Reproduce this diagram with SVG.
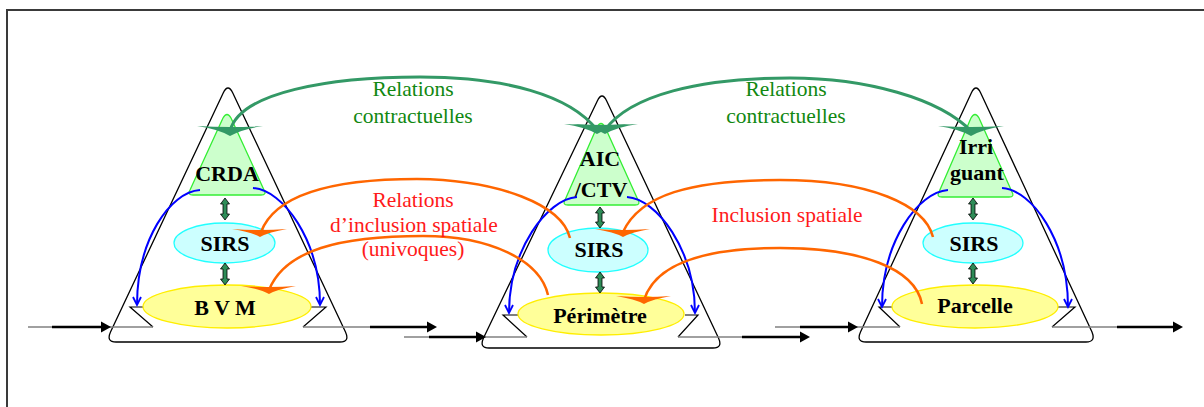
<svg xmlns="http://www.w3.org/2000/svg" xmlns:xlink="http://www.w3.org/1999/xlink" width="1204" height="407" viewBox="0 0 1204 407">
<style>
  .frame{fill:none;stroke:#3a3a3a;stroke-width:2}
  .outer{fill:none;stroke:#000;stroke-width:1.3}
  .z{fill:none;stroke:#000;stroke-width:1.2}
  .gtri{fill:#ccffcc;stroke:#33ee33;stroke-width:1.3;stroke-linejoin:round}
  .cyan{fill:#ccffff;stroke:#22ffff;stroke-width:1.3}
  .yel{fill:#ffff99;stroke:#ffee00;stroke-width:1.3}
  .lbl{font-family:"Liberation Serif","Times New Roman",serif;font-weight:bold;font-size:22px;fill:#000;text-anchor:middle}
  .gtxt{font-family:"Liberation Serif","Times New Roman",serif;font-size:21.5px;fill:#118811;text-anchor:middle}
  .rtxt{font-family:"Liberation Serif","Times New Roman",serif;font-size:21.5px;fill:#ff1a1a;text-anchor:middle}
  .garc{fill:none;stroke:#339966;stroke-width:3}
  .ghead{fill:#339966}
  .oarc{fill:none;stroke:#ff6600;stroke-width:2.5}
  .ohead{fill:#ff6600}
  .barc{fill:none;stroke:#0000ff;stroke-width:2;marker-end:url(#bArrow)}
  .dbl{fill:#2e8b57;stroke:#000;stroke-width:0.8}
  .gray{fill:none;stroke:#808080;stroke-width:1.6}
  .blk{fill:none;stroke:#000;stroke-width:2.5}
</style>
<defs>
  <marker id="bArrow" markerUnits="userSpaceOnUse" markerWidth="12" markerHeight="12" refX="9" refY="5" orient="auto" viewBox="0 0 12 10">
    <path d="M1,1 L9,5 L1,9" fill="none" stroke="#0000ff" stroke-width="1.8"/>
  </marker>
  <path id="gh" d="M-33,-9 Q0,-7 33,-9 Q12,-6 0,1 Q-12,-6 -33,-9 Z"/>
  <path id="oh" d="M-28,-8 Q0,-6 27,-8 Q9,-5 0,0 Q-9,-5 -28,-8 Z"/>
  <path id="ah" d="M0,0 L-10,-5.5 L-10,5.5 Z"/>
</defs>

<!-- frame -->
<path class="frame" d="M7,407 L7,10 L1204,10"/>

<!-- left group -->
<g id="container-left">
  <path class="outer" d="M223.2,93 Q228,83 232.8,93 L345.5,332 Q350,342 340,342 L116,342 Q106,342 110.5,332 Z"/>
  <polyline class="z" points="143,307 130,307 153,327"/>
  <polyline class="z" points="311,307 326,307 303,327"/>
</g>
<g id="node-crda">
  <path class="gtri" d="M223,118 Q227,111 231,118 L264,190 Q267,195 261,195 L193,195 Q187,195 190,190 Z"/>
  <text class="lbl" x="227" y="181">CRDA</text>
</g>
<g id="node-sirs-left">
  <ellipse class="cyan" cx="224.5" cy="243" rx="50.5" ry="20"/>
  <text class="lbl" x="225" y="251">SIRS</text>
</g>
<g id="node-bvm">
  <ellipse class="yel" cx="227" cy="306.5" rx="84" ry="21.5"/>
  <text class="lbl" x="225" y="315">B V M</text>
</g>

<!-- middle group -->
<g id="container-mid">
  <path class="outer" d="M597.3,101 Q602,91 606.7,101 L718.5,338 Q723,348 713,348 L489,348 Q479,348 483.5,338 Z"/>
  <polyline class="z" points="518,315 503,315 527,337"/>
  <polyline class="z" points="685,315 698,315 678,337"/>
</g>
<g id="node-aic-ctv">
  <path class="gtri" d="M597,127 Q601,120 605,127 L638,200 Q641,205 635,205 L568,205 Q562,205 565,200 Z"/>
  <text class="lbl" x="600" y="166">AIC</text>
  <text class="lbl" x="601" y="197">/CTV</text>
</g>
<g id="node-sirs-mid">
  <ellipse class="cyan" cx="598" cy="250" rx="50" ry="22"/>
  <text class="lbl" x="599" y="257">SIRS</text>
</g>
<g id="node-perimetre">
  <ellipse class="yel" cx="601" cy="314" rx="83" ry="21"/>
  <text class="lbl" x="600" y="323">Périmètre</text>
</g>

<!-- right group -->
<g id="container-right">
  <path class="outer" d="M971.3,93 Q976,83 980.7,93 L1092,332 Q1096,342 1086,342 L866,342 Q856,342 860.5,332 Z"/>
  <polyline class="z" points="892,307 879,307 900,327"/>
  <polyline class="z" points="1058,307 1075,307 1052,327"/>
</g>
<g id="node-irriguant">
  <path class="gtri" d="M971,118 Q975,111 979,118 L1012,192 Q1015,197 1009,197 L942,197 Q936,197 939,192 Z"/>
  <text class="lbl" x="976" y="154">Irri</text>
  <text class="lbl" x="977" y="180">guant</text>
</g>
<g id="node-sirs-right">
  <ellipse class="cyan" cx="973" cy="243" rx="50" ry="20"/>
  <text class="lbl" x="974" y="251">SIRS</text>
</g>
<g id="node-parcelle">
  <ellipse class="yel" cx="975" cy="306.5" rx="83" ry="21.5"/>
  <text class="lbl" x="975" y="313">Parcelle</text>
</g>

<!-- connectors -->
<g id="connectors">
  <!-- flow arrows -->
  <line class="gray" x1="28" y1="327" x2="153" y2="327"/>
  <line class="blk" x1="52" y1="327" x2="101" y2="327"/>
  <use href="#ah" transform="translate(111,327)"/>
  <line class="gray" x1="303" y1="327" x2="372" y2="327"/>
  <line class="blk" x1="370" y1="327" x2="428" y2="327"/>
  <use href="#ah" transform="translate(437,327)"/>
  <line class="gray" x1="404" y1="337" x2="527" y2="337"/>
  <line class="blk" x1="429" y1="337" x2="476" y2="337"/>
  <use href="#ah" transform="translate(486,337)"/>
  <line class="gray" x1="678" y1="337" x2="744" y2="337"/>
  <line class="blk" x1="742" y1="337" x2="800" y2="337"/>
  <use href="#ah" transform="translate(810,337)"/>
  <line class="gray" x1="775" y1="327" x2="900" y2="327"/>
  <line class="blk" x1="800" y1="327" x2="848" y2="327"/>
  <use href="#ah" transform="translate(858,327)"/>
  <line class="gray" x1="1052" y1="327" x2="1119" y2="327"/>
  <line class="blk" x1="1117" y1="327" x2="1173" y2="327"/>
  <use href="#ah" transform="translate(1183,327)"/>

  <!-- double arrows -->
  <path class="dbl" d="M225,198 L229.5,204 L227,204 L227,214 L229.5,214 L225,220 L220.5,214 L223,214 L223,204 L220.5,204 Z"/>
  <path class="dbl" d="M225,263 L229.5,269 L227,269 L227,279 L229.5,279 L225,285 L220.5,279 L223,279 L223,269 L220.5,269 Z"/>
  <path class="dbl" d="M600,207 L604.5,213 L602,213 L602,222 L604.5,222 L600,228 L595.5,222 L598,222 L598,213 L595.5,213 Z"/>
  <path class="dbl" d="M600,272 L604.5,278 L602,278 L602,287 L604.5,287 L600,293 L595.5,287 L598,287 L598,278 L595.5,278 Z"/>
  <path class="dbl" d="M973,198 L977.5,204 L975,204 L975,214 L977.5,214 L973,220 L968.5,214 L971,214 L971,204 L968.5,204 Z"/>
  <path class="dbl" d="M973,263 L977.5,269 L975,269 L975,278 L977.5,278 L973,284 L968.5,278 L971,278 L971,269 L968.5,269 Z"/>

  <!-- blue arcs -->
  <path class="barc" d="M200,190 C170,192 137,240 137,305"/>
  <path class="barc" d="M253,188 C283,190 320,240 320,305"/>
  <path class="barc" d="M577,197 C547,199 509,250 509,313"/>
  <path class="barc" d="M627,197 C657,199 695,250 695,313"/>
  <path class="barc" d="M948,190 C918,192 882,242 882,307"/>
  <path class="barc" d="M1002,188 C1032,190 1068,240 1068,307"/>

  <!-- green contractual arcs -->
  <path class="garc" d="M230,131 C240,92 330,77 420,77 C505,77 570,95 597,130"/>
  <path class="garc" d="M605,130 C630,95 700,78 790,78 C865,78 940,98 972,132"/>
  <use href="#gh" class="ghead" transform="translate(230,135)"/>
  <use href="#gh" class="ghead" transform="translate(597,133)"/>
  <use href="#gh" class="ghead" transform="translate(605,133)"/>
  <use href="#gh" class="ghead" transform="translate(971,135)"/>

  <!-- orange inclusion arcs -->
  <path class="oarc" d="M570,238 C562,205 500,180 417,179 C330,179 275,195 261,232"/>
  <path class="oarc" d="M548,295 C540,260 490,236 423,236 C340,236 285,250 269,290"/>
  <path class="oarc" d="M933,237 C925,205 870,180 780,180 C690,180 640,195 623,232"/>
  <path class="oarc" d="M922,304 C915,268 860,248 780,248 C700,248 655,265 644,300"/>
  <use href="#oh" class="ohead" transform="translate(260,237)"/>
  <use href="#oh" class="ohead" transform="translate(269,294)"/>
  <use href="#oh" class="ohead" transform="translate(623,237)"/>
  <use href="#oh" class="ohead" transform="translate(644,304)"/>
</g>

<!-- relation labels -->
<g id="labels">
  <text class="gtxt" x="413" y="96">Relations</text>
  <text class="gtxt" x="413" y="123">contractuelles</text>
  <text class="gtxt" x="786" y="96">Relations</text>
  <text class="gtxt" x="786" y="123">contractuelles</text>
  <text class="rtxt" x="413" y="207">Relations</text>
  <text class="rtxt" x="414" y="232">d’inclusion spatiale</text>
  <text class="rtxt" x="413" y="256">(univoques)</text>
  <text class="rtxt" x="787" y="222">Inclusion spatiale</text>
</g>
</svg>
